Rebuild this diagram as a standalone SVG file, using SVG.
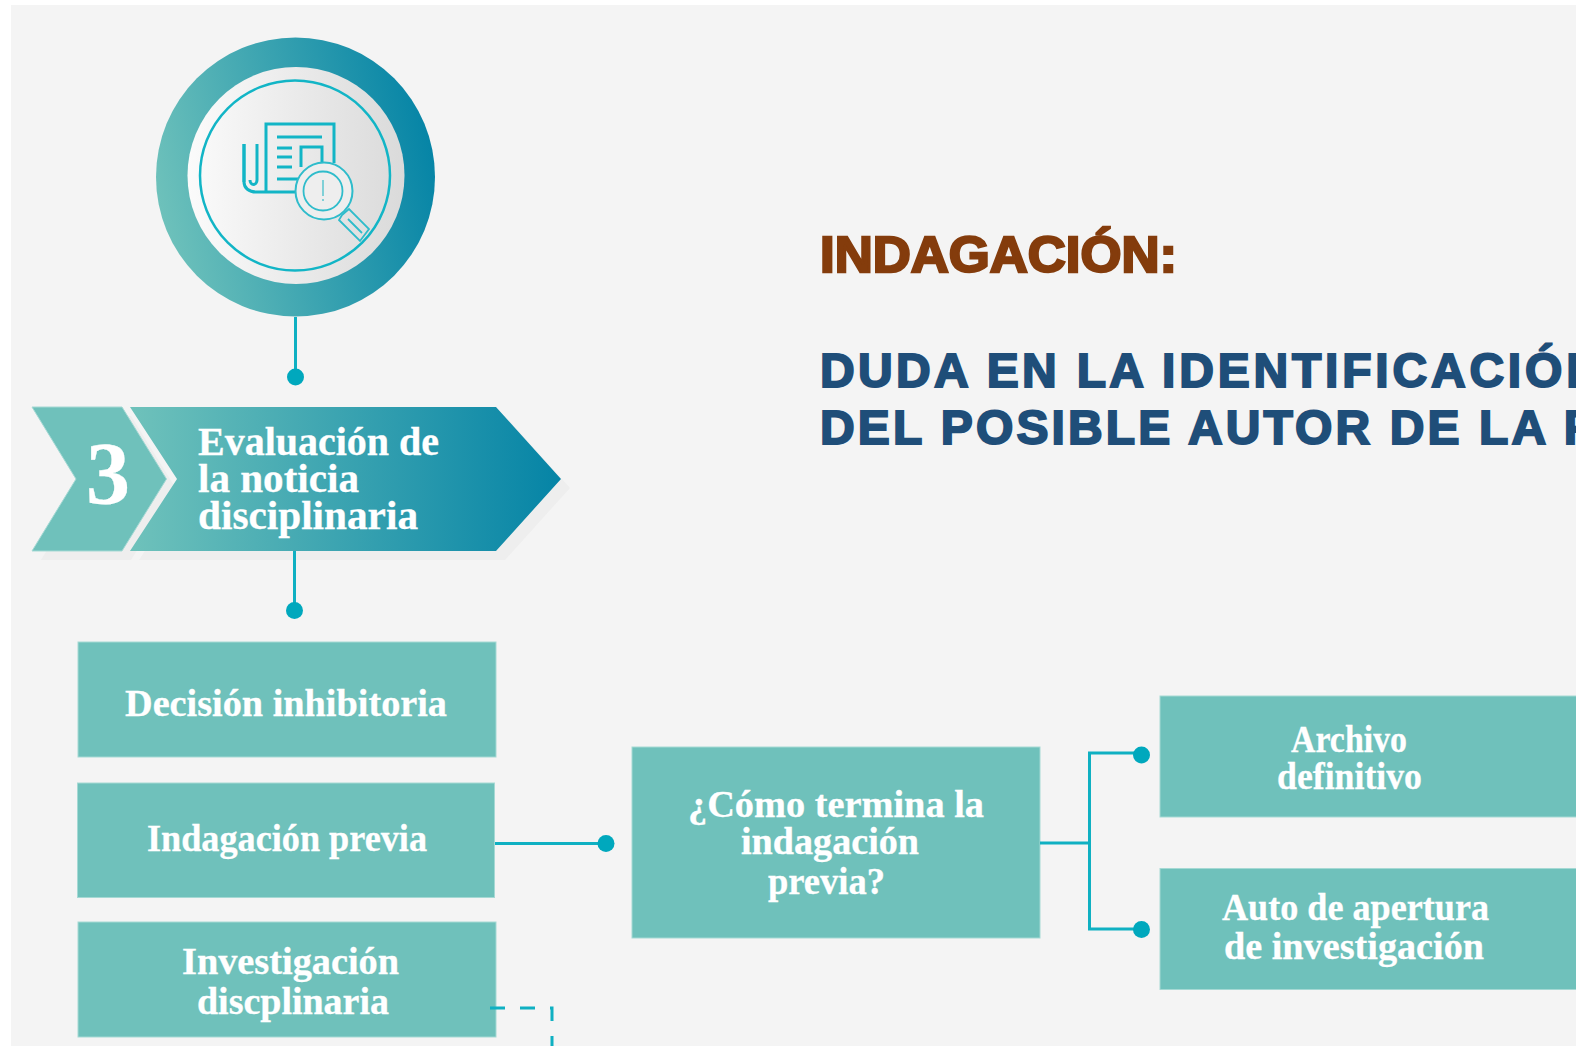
<svg xmlns="http://www.w3.org/2000/svg" width="1576" height="1046" viewBox="0 0 1576 1046">
<style>
.box{fill:#6fc1bb;stroke:#a5d9d4;stroke-width:1}
.t{font-family:"Liberation Serif",serif;font-weight:700;fill:#fff;font-size:37px;stroke:#fff;stroke-width:.3}
.h{font-family:"Liberation Sans",Arial,sans-serif;font-weight:700}
.c{fill:none;stroke:#0fb0c2;stroke-width:3}
.dot{fill:#00a8bd}
.i{fill:none;stroke:#12b5c6;stroke-width:3}
.thin{fill:none;stroke:#2fbccb;stroke-width:1.800}
.sh{fill:#eeeeee}
</style>
<defs>
<linearGradient id="ring" x1="0" y1="0.62" x2="1" y2="0.4"><stop offset="0" stop-color="#6fc2bb"/><stop offset="1" stop-color="#0584a6"/></linearGradient>
<linearGradient id="disc" x1="0" y1="0.5" x2="1" y2="0.5"><stop offset="0" stop-color="#fbfbfb"/><stop offset="1" stop-color="#dadada"/></linearGradient>
<linearGradient id="arrow" x1="0" y1="0" x2="1" y2="0"><stop offset="0" stop-color="#6fc2bb"/><stop offset="1" stop-color="#0584a6"/></linearGradient>
</defs>
<rect width="1576" height="1046" fill="#fff"/>
<rect x="11" y="5" width="1565" height="1041" fill="#f4f4f4"/>

<g id="icon-node">
<circle cx="295.500" cy="177" r="139.500" fill="url(#ring)"/>
<circle cx="296" cy="175.500" r="108.500" fill="url(#disc)"/>
<circle cx="295" cy="175.500" r="95" fill="none" stroke="#12b5c6" stroke-width="2.500"/>
<path class="i" d="M266 178V124H334V163M266 192H295M266 173V192H256C249 192 244 188 244 182V144"/>
<path class="i" d="M244 144V182M257 144V180C257 186 250 186 250 180"/>
<path class="i" d="M277 137H322M277 148H292M277 157H292M277 167H292M277 179H298M301 167V147H322V162"/>
<circle cx="324" cy="191" r="28.500" fill="#eeeeee" stroke="#2fbccb" stroke-width="2"/>
<circle cx="323" cy="191" r="19.500" class="thin"/>
<path d="M323 180V196M323 199V201" fill="none" stroke="#5cc6d0" stroke-width="1.500"/>
<path class="thin" d="M342 215L349 209L369 229L360 241L339 220ZM348 219L362 233"/>
</g>

<g id="chevron-3">
<path class="sh" d="M41 416H131L175.500 488L131 560H41L85 488Z"/>
<path class="sh" d="M139 416H505L570 488L505 560H139L186 488Z"/>
<path d="M32 407H122L166.500 479L122 551H32L76 479Z" class="box"/>
<text class="t" x="108" y="503" text-anchor="middle" style="font-size:88px">3</text>
</g>
<g id="chevron-title">
<path d="M130 407H496L561 479L496 551H130L177 479Z" fill="url(#arrow)"/>
<text class="t" x="198" y="455" textLength="241" lengthAdjust="spacingAndGlyphs" style="font-size:39px">Evaluación de</text>
<text class="t" x="198" y="492" textLength="161" lengthAdjust="spacingAndGlyphs" style="font-size:39px">la noticia</text>
<text class="t" x="198" y="529" textLength="220" lengthAdjust="spacingAndGlyphs" style="font-size:39px">disciplinaria</text>
</g>

<g id="node-inhibitoria">
<rect class="box" x="78" y="642" width="418" height="115"/>
<text class="t" x="125" y="716" textLength="322" lengthAdjust="spacingAndGlyphs">Decisión inhibitoria</text>
</g>
<g id="node-previa">
<rect class="box" x="77.500" y="783" width="417" height="114.500"/>
<text class="t" x="147" y="851" textLength="280" lengthAdjust="spacingAndGlyphs">Indagación previa</text>
</g>
<g id="node-investigacion">
<rect class="box" x="78" y="922" width="418" height="115"/>
<text class="t" x="182" y="974" textLength="217" lengthAdjust="spacingAndGlyphs">Investigación</text>
<text class="t" x="197" y="1014" textLength="192" lengthAdjust="spacingAndGlyphs">discplinaria</text>
</g>
<g id="node-pregunta">
<rect class="box" x="632" y="747" width="408" height="191"/>
<text class="t" x="688" y="817" textLength="296" lengthAdjust="spacingAndGlyphs">¿Cómo termina la</text>
<text class="t" x="741" y="854" textLength="178" lengthAdjust="spacingAndGlyphs">indagación</text>
<text class="t" x="768" y="894" textLength="117" lengthAdjust="spacingAndGlyphs">previa?</text>
</g>
<g id="node-archivo">
<rect class="box" x="1160" y="696" width="417" height="121"/>
<text class="t" x="1291" y="752" textLength="116" lengthAdjust="spacingAndGlyphs">Archivo</text>
<text class="t" x="1277" y="789" textLength="145" lengthAdjust="spacingAndGlyphs">definitivo</text>
</g>
<g id="node-apertura">
<rect class="box" x="1160" y="868.500" width="417" height="121"/>
<text class="t" x="1222" y="920" textLength="267" lengthAdjust="spacingAndGlyphs">Auto de apertura</text>
<text class="t" x="1224" y="959" textLength="260" lengthAdjust="spacingAndGlyphs">de investigación</text>
</g>

<g id="connectors">
<path class="c" d="M295.500 317V377"/>
<circle class="dot" cx="295.500" cy="377" r="8.500"/>
<path class="c" d="M294.500 551V610"/>
<circle class="dot" cx="294.500" cy="610.500" r="8.500"/>
<path class="c" d="M495 843.500H606"/>
<circle class="dot" cx="606" cy="843.500" r="8.500"/>
<path class="c" d="M1040 843H1089.500M1141 753H1089.500V929H1141"/>
<circle class="dot" cx="1141.500" cy="755" r="8.500"/>
<circle class="dot" cx="1141.500" cy="929.500" r="8.500"/>
<path class="c" d="M490 1008H552V1046" stroke-dasharray="15 15"/>
</g>

<g id="titles">
<text class="h" x="820" y="272" font-size="50" fill="#843c0c" stroke="#843c0c" stroke-width="2.400" textLength="357" lengthAdjust="spacingAndGlyphs">INDAGACIÓN:</text>
<text class="h" x="820" y="387" font-size="48" letter-spacing="3.300" fill="#1f4e79" stroke="#1f4e79" stroke-width="2">DUDA EN LA <tspan letter-spacing="3.800">IDENTIFICACIÓN</tspan></text>
<text class="h" x="820" y="444" font-size="48" letter-spacing="3.100" fill="#1f4e79" stroke="#1f4e79" stroke-width="2">DEL POSIBLE AUTOR DE LA F</text>
</g>
</svg>
